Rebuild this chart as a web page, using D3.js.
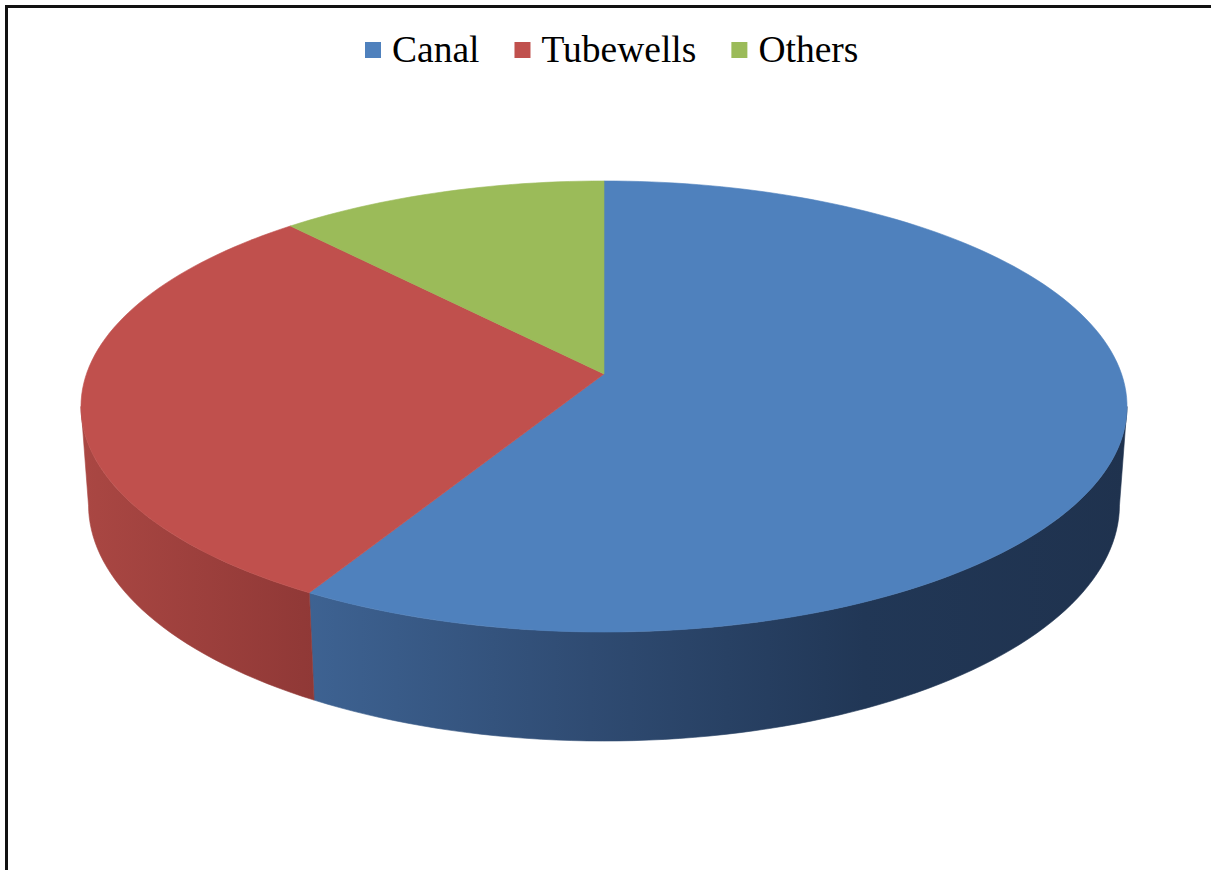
<!DOCTYPE html>
<html>
<head>
<meta charset="utf-8">
<script src="https://cdn.jsdelivr.net/npm/d3@7"></script>
<style>
  html, body { margin: 0; padding: 0; background: #fff; }
  svg { display: block; }
</style>
</head>
<body>
<svg id="chart" width="1211" height="870"></svg>
<script>
// ---- data ----
const categories = ["Canal", "Tubewells", "Others"];
const values = [58.3, 30.0, 11.7];
const topColors = ["#4f81bd", "#c0504d", "#9bbb59"];

// ---- layout / projection parameters ----
const W = 1211, H = 870;
const cx = 604, cy = 374;
const sinA = 0.4267, cosA = 0.9044;   // tilt
const R = 0.1593, depth = 0.03354, f = 3249; // camera distance = 1

function project(theta, yw, r = R) {
  const X = r * Math.sin(theta), Z = r * Math.cos(theta);
  const xc = X;
  const yc = Z * sinA + yw * cosA;
  const d = 1 + Z * cosA - yw * sinA;
  return [cx + f * xc / d, cy - f * yc / d];
}

const svg = d3.select("#chart");
const defs = svg.append("defs");

// wall gradients
const gBlue = defs.append("linearGradient").attr("id", "wall0")
  .attr("gradientUnits", "userSpaceOnUse").attr("x1", 300).attr("x2", 1130).attr("y1", 0).attr("y2", 0);
[[0, "#3e6393"], [0.35, "#2f4b72"], [0.68, "#213756"], [1, "#1f324e"]].forEach(s =>
  gBlue.append("stop").attr("offset", s[0]).attr("stop-color", s[1]));
const gRed = defs.append("linearGradient").attr("id", "wall1")
  .attr("gradientUnits", "userSpaceOnUse").attr("x1", 80).attr("x2", 320).attr("y1", 0).attr("y2", 0);
[[0, "#aa4743"], [1, "#8f3836"]].forEach(s =>
  gRed.append("stop").attr("offset", s[0]).attr("stop-color", s[1]));
const gGreen = defs.append("linearGradient").attr("id", "wall2")
  .attr("gradientUnits", "userSpaceOnUse").attr("x1", 80).attr("x2", 1130).attr("y1", 0).attr("y2", 0);
[[0, "#7d9848"], [1, "#5b6f34"]].forEach(s =>
  gGreen.append("stop").attr("offset", s[0]).attr("stop-color", s[1]));

// frame
svg.append("rect").attr("x", 6.5).attr("y", 6.5).attr("width", 1400).attr("height", 1000)
  .attr("fill", "none").attr("stroke", "#111").attr("stroke-width", 3);

// pie
const pie = d3.pie().sort(null).startAngle(0).endAngle(2 * Math.PI);
const arcs = pie(values);

const u = R * cosA;
const vis0 = Math.acos(-u), vis1 = 2 * Math.PI - Math.acos(-u);
const line = d3.line();
const N = 240;

function samples(a, b) {
  const n = Math.max(2, Math.ceil((b - a) / (2 * Math.PI) * N));
  return d3.range(n + 1).map(i => a + (b - a) * i / n);
}

// walls
const wallG = svg.append("g");
arcs.forEach((d, i) => {
  const a = Math.max(d.startAngle, vis0), b = Math.min(d.endAngle, vis1);
  if (a >= b) return;
  const ts = samples(a, b);
  const pts = ts.map(t => project(t, 0)).concat(ts.slice().reverse().map(t => project(t, -depth)));
  wallG.append("path").attr("d", line(pts) + "Z").attr("fill", `url(#wall${i})`)
    .attr("stroke", `url(#wall${i})`).attr("stroke-width", 0.6);
});

// tops
const topG = svg.append("g");
arcs.forEach((d, i) => {
  const ts = samples(d.startAngle, d.endAngle);
  const pts = [project(0, 0, 0)].concat(ts.map(t => project(t, 0)));
  topG.append("path").attr("d", line(pts) + "Z").attr("fill", topColors[i])
    .attr("stroke", topColors[i]).attr("stroke-width", 0.6);
});

// legend
const legend = svg.append("g").attr("font-family", "'Liberation Serif', 'Times New Roman', serif")
  .attr("font-size", 37.5).attr("fill", "#000");
let x = 365;
const baseline = 62;
categories.forEach((c, i) => {
  legend.append("rect").attr("x", x).attr("y", 42).attr("width", 16).attr("height", 16)
    .attr("fill", topColors[i]);
  const t = legend.append("text").attr("x", x + 27).attr("y", baseline).text(c);
  const w = t.node().getComputedTextLength();
  x = x + 27 + w + 35;
});
</script>
</body>
</html>
